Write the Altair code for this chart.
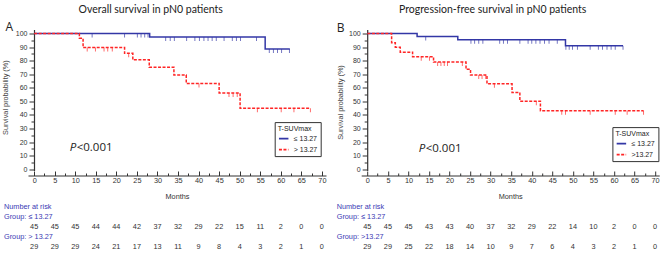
import altair as alt
import pandas as pd

# ---------------- data ----------------
risk_months = list(range(0, 75, 5))

# Panel A - overall survival
os_low_t = [0, 28.1, 56.2]
os_low_s = [100, 97.4, 88.6]
os_low_end = 62.2
os_low_cens = [14.1, 22.0, 25.1, 26.0, 26.9, 27.7, 32.0, 33.1, 34.1, 37.1, 39.1,
               40.2, 41.3, 42.3, 43.3, 44.3, 46.2, 48.2, 49.2, 50.2, 54.1,
               57.2, 58.2, 59.2, 60.2, 62.1]
os_high_t = [0, 11.0, 11.9, 22.0, 24.0, 28.0, 34.0, 37.0, 45.0, 50.1]
os_high_s = [100, 96.6, 89.7, 85.4, 80.6, 75.2, 69.4, 63.2, 56.2, 45.0]
os_high_end = 67.2
os_high_cens = [12.9, 14.9, 17.0, 17.9, 19.0, 23.0, 40.1, 47.4, 48.4, 49.4,
                54.3, 60.1, 63.2, 67.2]
os_risk_low = [45, 45, 45, 44, 44, 42, 37, 32, 29, 22, 15, 11, 2, 0, 0]
os_risk_high = [29, 29, 29, 24, 21, 17, 13, 11, 9, 8, 4, 3, 2, 1, 0]

# Panel B - progression-free survival
pfs_low_t = [0, 12.1, 22.0, 48.2]
pfs_low_s = [100, 97.8, 95.5, 91.0]
pfs_low_end = 62.2
pfs_low_cens = [14.2, 25.2, 26.1, 27.1, 28.1, 32.2, 33.1, 34.1, 37.1, 39.1, 40.0,
                41.0, 42.0, 43.1, 44.2, 46.2, 48.3, 49.1, 49.9, 51.1, 54.2, 56.2,
                57.2, 58.3, 59.3, 60.3, 62.2]
pfs_high_t = [0, 5.9, 6.8, 8.0, 11.0, 16.1, 24.0, 25.1, 29.1, 35.2, 37.1, 42.1]
pfs_high_s = [100, 93.2, 89.9, 86.3, 82.9, 79.0, 73.7, 69.4, 62.9, 56.5, 50.1, 43.1]
pfs_high_end = 67.2
pfs_high_cens = [13.1, 15.1, 17.1, 17.9, 18.7, 19.5, 23.1, 27.1, 27.9, 28.8, 30.9,
                 41.1, 47.3, 48.2, 54.2, 60.3, 63.2, 67.2]
pfs_risk_low = [45, 45, 45, 43, 43, 40, 37, 32, 29, 22, 14, 10, 2, 0, 0]
pfs_risk_high = [29, 29, 25, 22, 18, 14, 10, 9, 7, 6, 4, 3, 2, 1, 0]

x_tick_values = [v * 2.5 for v in range(29)]   # labelled every 5 months
y_tick_values = [v * 5 for v in range(21)]     # labelled every 10 %

# ---------------- style ----------------
BLUE = "#3337a6"
RED = "#ff2525"
TXT_BLUE = "#3a3ab4"
NARROW = "Liberation Sans Narrow, Liberation Sans, Arial, sans-serif"
HEAD = "Lato, Open Sans, sans-serif"
W, H = 298, 141
ROWS = ["hdr", "g1", "n1", "g2", "n2"]


def step_value(ts, ss, t):
    val = ss[0]
    for ti, si in zip(ts, ss):
        if ti <= t:
            val = si
    return val


def panel(title, title_x, letter, letter_xy, ytitle_xy, p_xy, low, high,
          risk_low, risk_high, lbl_low, lbl_high, grp_low, grp_high, legend_xy):
    rows = []
    cens = []
    for (ts, ss, end, cs), lbl, k in ((low, lbl_low, 0), (high, lbl_high, 1)):
        for ti, si in zip(ts, ss):
            rows.append({"t": ti, "s": si, "grp": lbl, "k": k})
        rows.append({"t": end, "s": ss[-1], "grp": lbl, "k": k})
        for c in cs:
            cens.append({"t": c, "s": step_value(ts, ss, c), "grp": lbl})
    curves = pd.DataFrame(rows)
    cens = pd.DataFrame(cens)

    x_axis = alt.Axis(
        values=x_tick_values,
        labelExpr="datum.value % 5 === 0 ? datum.label : ''",
        tickSize={"condition": {"test": "datum.value % 5 === 0", "value": -4.5}, "value": -2.5},
        offset=5, grid=False, domainColor="#333", tickColor="#333", domainWidth=1.2,
        labelFont=NARROW, labelFontSize=7.3, labelColor="#333", labelPadding=5.7,
        labelOverlap=False,
        title="Months", titleFont=NARROW, titleFontSize=7.3, titleFontWeight="normal",
        titleColor="#333", titlePadding=6,
    )
    y_axis = alt.Axis(
        values=y_tick_values,
        labelExpr="datum.value % 10 === 0 ? datum.label : ''",
        tickSize={"condition": {"test": "datum.value % 10 === 0", "value": 5}, "value": 3},
        offset=-6, grid=False, domainColor="#333", tickColor="#333", domainWidth=1.2,
        labelFont=NARROW, labelFontSize=7, labelColor="#333", labelPadding=2,
        labelOverlap=False, title=None,
    )
    xs = alt.X("t:Q", scale=alt.Scale(domain=[-1.5, 71], nice=False, zero=False), axis=x_axis)
    ys = alt.Y("s:Q", scale=alt.Scale(domain=[-1, 103], nice=False, zero=False), axis=y_axis)
    leg = alt.Legend(
        title="T-SUVmax", orient="none", legendX=legend_xy[0], legendY=legend_xy[1],
        titleFont=NARROW, titleFontSize=7, titleFontWeight="normal", titleColor="#222",
        titlePadding=0.5, labelFont=NARROW, labelFontSize=7, labelColor="#222",
        symbolType="stroke", symbolSize=90, symbolStrokeWidth=1.6, labelOffset=4,
        rowPadding=1, padding=3, strokeColor="#333", fillColor="white",
    )
    color = alt.Color("grp:N", scale=alt.Scale(domain=[lbl_low, lbl_high], range=[BLUE, RED]),
                      legend=leg)
    dash = alt.StrokeDash("grp:N", scale=alt.Scale(domain=[lbl_low, lbl_high],
                                                   range=[[1, 0], [3, 1.5]]), legend=leg)

    lines = alt.Chart(curves).mark_line(interpolate="step-after", strokeWidth=1.5).encode(
        x=xs, y=ys, color=color, strokeDash=dash, order="k:Q", detail="k:N")
    ticks = alt.Chart(cens).mark_tick(orient="vertical", size=4, thickness=0.9,
                                      yOffset=2, opacity=0.75).encode(
        x=xs, y=ys, color=alt.Color("grp:N", legend=None))

    def label(txt, x, y, **kw):
        return alt.Chart(pd.DataFrame({"txt": [txt]})).mark_text(**kw).encode(
            text="txt:N", x=alt.value(x), y=alt.value(y))

    head = label(title, title_x, -19.9, font=HEAD, fontSize=10.5, color="#222",
                 align="center", baseline="middle")
    let = label(letter, letter_xy[0], letter_xy[1], font="Open Sans, sans-serif",
                fontSize=12, color="#222", align="center", baseline="middle")
    ytl = label("Survival probability (%)", ytitle_xy[0], ytitle_xy[1], font=NARROW,
                fontSize=7.3, color="#444", angle=270, align="center", baseline="middle")
    p1 = label("P", p_xy[0], p_xy[1], font="Open Sans, sans-serif", fontSize=11.5,
               fontStyle="italic", color="#222", align="right", baseline="middle")
    p2 = label("<0.001", p_xy[0] + 0.5, p_xy[1], font="Open Sans, sans-serif", fontSize=11.5,
               color="#222", align="left", baseline="middle")

    km = alt.layer(lines, ticks, head, let, ytl, p1, p2)

    # number-at-risk table
    nums = pd.DataFrame(
        [{"t": m, "row": "n1", "v": str(v)} for m, v in zip(risk_months, risk_low)]
        + [{"t": m, "row": "n2", "v": str(v)} for m, v in zip(risk_months, risk_high)])
    heads = pd.DataFrame({"row": ["hdr", "g1", "g2"],
                          "v": ["Number at risk", grp_low, grp_high]})
    ry = alt.Y("row:N", scale=alt.Scale(domain=ROWS, range=[177.1, 217.1], padding=0),
               axis=None)
    num_layer = alt.Chart(nums).mark_text(font=NARROW, fontSize=7.3, color="#333",
                                          baseline="middle").encode(
        x=xs, y=ry, text="v:N")
    head_layer = alt.Chart(heads).mark_text(font=NARROW, fontSize=7.3, color=TXT_BLUE,
                                            align="left", baseline="middle").encode(
        x=alt.value(letter_xy[2]), y=ry, text="v:N")
    risk = alt.layer(num_layer, head_layer)

    return alt.layer(km, risk).resolve_scale(y="independent").properties(width=W, height=H)


panel_a = panel("Overall survival in pN0 patients", 122.7, "A", (-18.8, -2.9, -24.0),
                (-21.6, 68.1), (48.2, 118.4),
                (os_low_t, os_low_s, os_low_end, os_low_cens),
                (os_high_t, os_high_s, os_high_end, os_high_cens),
                os_risk_low, os_risk_high, "\u2264 13.27", "> 13.27",
                "Group: \u2264 13.27", "Group: > 13.27", (246.7, 92.6))
panel_b = panel("Progression-free survival in pN0 patients", 131.5, "B", (-20.5, -1.4, -24.5),
                (-20.5, 73.0), (64.0, 119.1),
                (pfs_low_t, pfs_low_s, pfs_low_end, pfs_low_cens),
                (pfs_high_t, pfs_high_s, pfs_high_end, pfs_high_cens),
                pfs_risk_low, pfs_risk_high, "\u2264 13.27", ">13.27",
                "Group: \u2264 13.27", "Group: >13.27", (251.2, 97.6))

chart = alt.hconcat(panel_a, panel_b, spacing=35.2, bounds="flush").resolve_scale(
    x="independent", y="independent", color="independent", strokeDash="independent"
).resolve_legend(color="independent", strokeDash="independent").properties(
    padding={"left": 2, "top": 4.5, "right": 0, "bottom": 0},
    background="white",
).configure_view(stroke=None)

chart.save("out.html", embed_options={"renderer": "svg", "actions": False})
